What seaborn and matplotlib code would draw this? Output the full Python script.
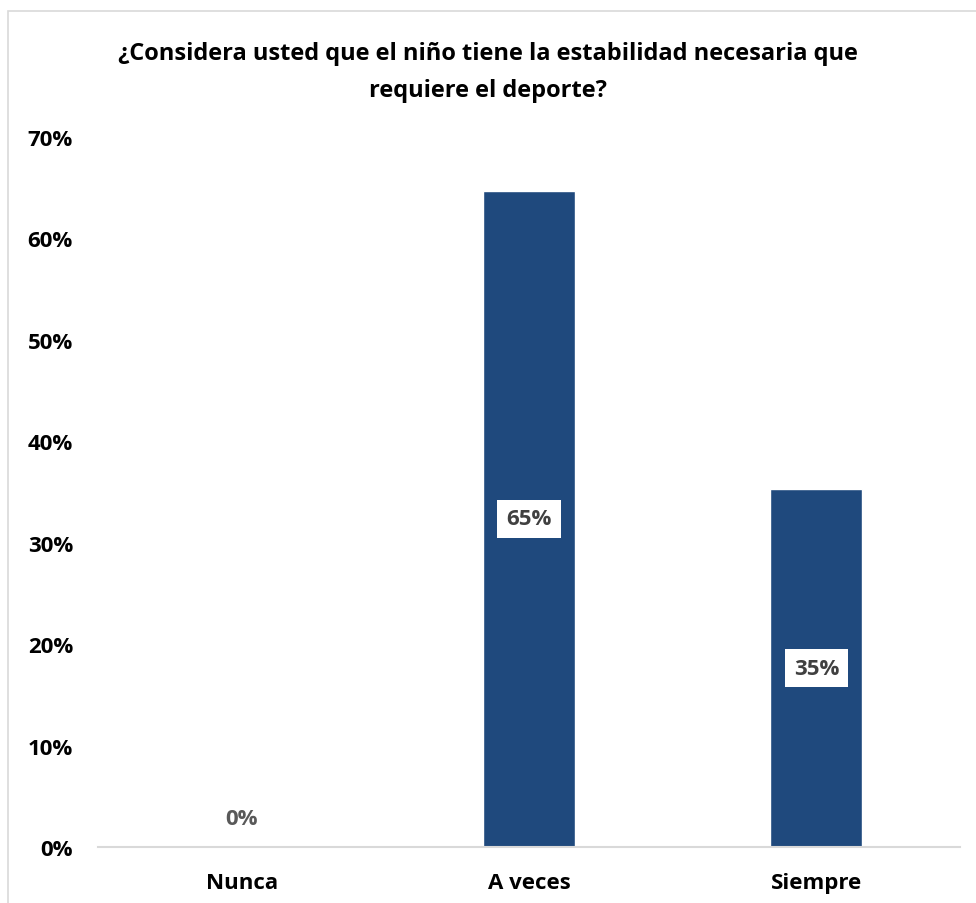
import matplotlib
matplotlib.use("Agg")
import matplotlib.pyplot as plt
import seaborn as sns
import pandas as pd
from matplotlib.patches import Rectangle
from matplotlib.ticker import PercentFormatter

categories = ["Nunca", "A veces", "Siempre"]
values = [0.0, 0.647, 0.353]
labels = ["0%", "65%", "35%"]
title = "¿Considera usted que el niño tiene la estabilidad necesaria que\nrequiere el deporte?"
yticks = [0, 0.1, 0.2, 0.3, 0.4, 0.5, 0.6, 0.7]

df = pd.DataFrame({"cat": categories, "val": values})

sns.set_theme(style="white")
plt.rcParams['font.family'] = ['Open Sans', 'DejaVu Sans']

fig = plt.figure(figsize=(9.76, 9.04), dpi=100)
ax = fig.add_axes([0.1004, 0.0619, 0.8832, 0.7854])
sns.barplot(data=df, x="cat", y="val", color="#1F497D", saturation=1, width=0.32, ax=ax)

ax.set_ylim(0, 0.7)
ax.set_yticks(yticks)
ax.yaxis.set_major_formatter(PercentFormatter(1.0, decimals=0))
ax.set_xlabel("")
ax.set_ylabel("")
for s in ["top", "right", "left"]:
    ax.spines[s].set_visible(False)
ax.spines["bottom"].set_color("#D9D9D9")
ax.spines["bottom"].set_linewidth(1.5)
ax.tick_params(axis="both", length=0, labelsize=16, labelcolor="black")
ax.tick_params(axis="y", pad=18)
ax.tick_params(axis="x", pad=18)
for t in ax.get_xticklabels() + ax.get_yticklabels():
    t.set_fontweight("bold")

for i, (v, lab) in enumerate(zip(values, labels)):
    if v > 0:
        ax.text(i, v / 2, lab, ha="center", va="center", fontsize=16, fontweight="bold",
                color="#404040", bbox=dict(boxstyle="square,pad=0.4", fc="white", ec="none"))
    else:
        ax.text(i, 0.028, lab, ha="center", va="center", fontsize=16, fontweight="bold",
                color="#595959")

fig.text(0.5, 0.920, title, ha="center", va="center", fontsize=17, fontweight="bold",
         color="black", linespacing=1.72)

fig.patches.append(Rectangle((8 / 976, -0.1), 1.2, 1 - 12 / 904 + 0.1, transform=fig.transFigure,
                             fill=False, ec="#D9D9D9", lw=1.2))

fig.savefig("out.png", dpi=100)
